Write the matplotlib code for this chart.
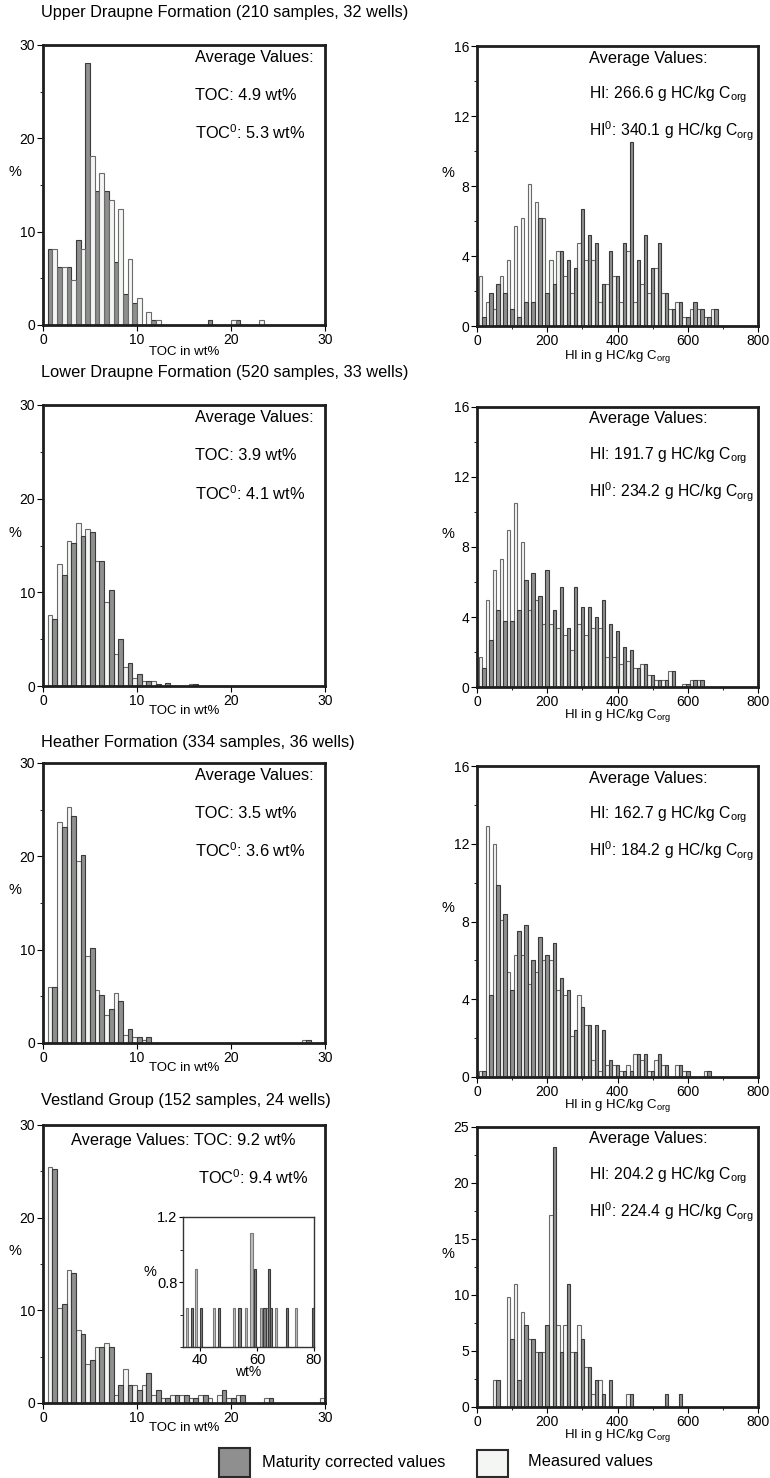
import matplotlib
matplotlib.use("Agg")
import matplotlib.pyplot as plt
from matplotlib.patches import Rectangle
from matplotlib.ticker import MultipleLocator
import numpy as np

plt.rcParams['font.family'] = ['Liberation Sans', 'DejaVu Sans']
plt.rcParams['mathtext.fontset'] = 'custom'
plt.rcParams['mathtext.rm'] = 'Liberation Sans'
plt.rcParams['mathtext.default'] = 'regular'

W, H = 770, 1478

# ---- TOC histograms (1 wt% bins, k = 1, 2, ...) ----
upper_toc_meas = [8.1, 6.2, 4.8, 8.1, 18.1, 16.3, 13.4, 12.4, 7.1, 2.9, 1.4, 0.5,
                  0, 0, 0, 0, 0, 0, 0, 0.5, 0, 0, 0.5]
upper_toc_corr = [8.1, 6.2, 6.2, 9.1, 28.1, 14.4, 14.4, 6.7, 3.3, 2.4, 0, 0.5,
                  0, 0, 0, 0, 0, 0.5, 0, 0, 0.5, 0, 0]

lower_toc_meas = [7.6, 13.0, 15.5, 17.4, 16.8, 13.3, 9.0, 3.4, 2.0, 0.9, 0.5, 0.5, 0, 0, 0, 0.2]
lower_toc_corr = [7.1, 11.8, 15.3, 16.0, 16.4, 13.3, 10.2, 5.0, 2.5, 1.3, 0.5, 0.2, 0.3, 0, 0, 0.2]

heather_toc_meas = [6.0, 23.7, 25.3, 19.5, 9.3, 5.7, 3.0, 5.4, 0.9, 0.6, 0.3,
                    0, 0, 0, 0, 0, 0, 0, 0, 0, 0, 0, 0, 0, 0, 0, 0, 0.3]
heather_toc_corr = [6.0, 23.1, 24.3, 20.1, 10.2, 5.1, 3.6, 4.5, 1.5, 0.6, 0.6,
                    0, 0, 0, 0, 0, 0, 0, 0, 0, 0, 0, 0, 0, 0, 0, 0, 0.3]

vest_toc_meas = [25.5, 10.2, 14.4, 7.9, 4.2, 6.0, 6.5, 0.9, 3.7, 1.9, 1.9, 0.9, 0.5, 0.9, 0.9,
                 0.5, 0.9, 0.5, 0.9, 0.5, 0.9, 0, 0, 0.5, 0, 0, 0, 0, 0, 0.5]
vest_toc_corr = [25.2, 10.7, 14.0, 7.4, 4.6, 6.0, 6.0, 1.9, 1.9, 1.4, 3.2, 1.4, 0.5, 0.9, 0.9,
                 0.5, 0.9, 0, 1.4, 0.5, 0.9, 0, 0, 0.5, 0, 0, 0, 0, 0, 0.5]

# Vestland inset (TOC > 30 wt%)
inset_meas_x = [35.5, 38.5, 45.0, 52.0, 56.1, 58.1, 61.4, 63.4, 66.7, 73.8]
inset_meas_h = [0.64, 0.88, 0.64, 0.64, 0.64, 1.10, 0.64, 0.64, 0.64, 0.64]
inset_corr_x = [37.1, 40.2, 46.7, 53.8, 59.4, 62.6, 64.1, 65.0, 70.5, 79.7]
inset_corr_h = [0.64, 0.64, 0.64, 0.64, 0.88, 0.64, 0.88, 0.64, 0.64, 0.64]

# ---- HI histograms (20 g HC/kg C bins starting at 0) ----
upper_hi_meas = [2.85, 1.4, 0.95, 2.85, 3.8, 5.7, 6.2, 8.1, 7.1, 6.2, 3.8, 4.3, 2.85, 1.9, 4.75, 3.8, 3.8,
                 1.4, 2.4, 2.85, 1.4, 4.3, 1.4, 2.4, 1.9, 3.3, 1.9, 0.95, 1.4, 0.5, 0.95, 0.95, 0.5, 0.95]
upper_hi_corr = [0.5, 1.9, 2.4, 1.9, 0.95, 0.5, 1.4, 1.4, 6.2, 1.9, 2.4, 4.3, 3.8, 3.3, 6.7, 5.2, 4.75,
                 2.4, 4.3, 2.85, 4.75, 10.5, 3.8, 5.2, 3.3, 4.75, 1.9, 0.95, 1.4, 0.5, 1.4, 0.95, 0.5, 0.95]

lower_hi_meas = [1.7, 5.0, 6.7, 7.3, 9.0, 10.5, 8.3, 4.4, 5.0, 3.6, 3.6, 3.4, 3.0, 2.1, 3.6, 3.0,
                 3.4, 3.4, 1.7, 1.7, 1.3, 1.5, 1.1, 1.3, 0.7, 0.4, 0.4, 0.9, 0, 0.15, 0.4, 0.4]
lower_hi_corr = [1.1, 2.7, 4.4, 3.8, 3.8, 4.4, 6.1, 6.5, 5.2, 6.7, 4.4, 5.7, 3.4, 5.7, 4.6, 4.6,
                 4.0, 5.0, 3.6, 3.2, 2.3, 2.1, 1.1, 1.3, 0.7, 0.4, 0.4, 0.9, 0, 0.15, 0.4, 0.4]

heather_hi_meas = [0.3, 12.9, 12.0, 8.1, 5.4, 6.3, 6.3, 4.8, 5.4, 6.0, 6.0, 4.5, 4.2, 2.1, 4.2, 2.7, 0.9,
                   0.3, 0.6, 0.6, 0.3, 0.6, 1.2, 0.9, 0.3, 0.9, 0.6, 0, 0.6, 0.3, 0, 0, 0.3]
heather_hi_corr = [0.3, 4.2, 9.9, 8.4, 4.5, 7.5, 7.8, 6.0, 7.2, 6.3, 6.9, 5.1, 4.5, 2.4, 3.6, 2.7, 2.7,
                   2.4, 0.9, 0.6, 0.3, 0.3, 1.2, 1.2, 0.3, 1.2, 0.6, 0, 0.6, 0.3, 0, 0, 0.3]

vest_hi_meas = [0, 0, 2.4, 0, 9.8, 11.0, 8.5, 6.1, 4.9, 4.9, 17.1, 7.3, 7.3, 4.9, 7.3, 3.6, 1.2,
                2.4, 0, 0, 0, 1.2, 0, 0, 0, 0, 0, 0, 0]
vest_hi_corr = [0, 0, 2.4, 0, 6.1, 2.4, 7.3, 6.1, 4.9, 7.3, 23.2, 4.9, 11.0, 4.9, 6.1, 3.6, 2.4,
                1.2, 2.4, 0, 0, 1.2, 0, 0, 0, 0, 1.2, 0, 1.2]

titles = ["Upper Draupne Formation (210 samples, 32 wells)",
          "Lower Draupne Formation (520 samples, 33 wells)",
          "Heather Formation (334 samples, 36 wells)",
          "Vestland Group (152 samples, 24 wells)"]
toc_avg = [("4.9", "5.3"), ("3.9", "4.1"), ("3.5", "3.6"), ("9.2", "9.4")]
hi_avg = [("266.6", "340.1"), ("191.7", "234.2"), ("162.7", "184.2"), ("204.2", "224.4")]

GRAY = '#8f8f8f'
WHITE = '#f4f6f4'
EDGE_G = '#3a3a3a'
EDGE_W = '#6a6a6a'
FS = 11.8
TFS = 10


def px_axes(fig, x0, y0, x1, y1):
    return fig.add_axes([x0 / W, 1 - y1 / H, (x1 - x0) / W, (y1 - y0) / H])


def bars(ax, left, heights, width, color, edge):
    left = np.asarray(left, float)
    heights = np.asarray(heights, float)
    m = heights > 0
    ax.bar(left[m], heights[m], width=width, align='edge', color=color,
           edgecolor=edge, linewidth=0.8)


def frame(ax, lw=2.0):
    for s in ax.spines.values():
        s.set_linewidth(lw)
        s.set_color('#1e1e1e')
    ax.tick_params(direction='out', length=4, width=0.8, labelsize=TFS, pad=1.5)
    ax.tick_params(which='minor', direction='out', length=2.5, width=0.6)


def toc_panel(ax, meas, corr, gray_first):
    k = np.arange(1, len(meas) + 1)
    if gray_first:
        bars(ax, k - 0.5, corr, 0.5, GRAY, EDGE_G)
        bars(ax, k, meas, 0.5, WHITE, EDGE_W)
    else:
        bars(ax, k - 0.5, meas, 0.5, WHITE, EDGE_W)
        bars(ax, k, corr, 0.5, GRAY, EDGE_G)
    ax.set_xlim(0, 30)
    ax.set_ylim(0, 30)
    ax.xaxis.set_major_locator(MultipleLocator(10))
    ax.yaxis.set_major_locator(MultipleLocator(10))
    ax.yaxis.set_minor_locator(MultipleLocator(5))
    frame(ax)
    ax.set_ylabel("%", rotation=0, fontsize=10.5)
    ax.yaxis.set_label_coords(-0.10, 0.52)


def hi_panel(ax, meas, corr, ymax, ymaj):
    b = 20 * np.arange(len(meas))
    bars(ax, b + 5, meas, 10, WHITE, EDGE_W)
    bars(ax, b + 15, corr, 10, GRAY, EDGE_G)
    ax.set_xlim(0, 800)
    ax.set_ylim(0, ymax)
    ax.xaxis.set_major_locator(MultipleLocator(200))
    ax.xaxis.set_minor_locator(MultipleLocator(100))
    ax.yaxis.set_major_locator(MultipleLocator(ymaj))
    ax.yaxis.set_minor_locator(MultipleLocator(ymaj / 2))
    frame(ax)
    ax.set_ylabel("%", rotation=0, fontsize=10.5)
    ax.yaxis.set_label_coords(-0.105, 0.52)


fig = plt.figure(figsize=(W / 100, H / 100), dpi=100)

rows_left = [(45, 325), (405, 686), (763, 1043), (1125, 1403)]
rows_right = [(46, 326), (407, 687), (766, 1077), (1127, 1407)]
title_y = [13, 372, 742, 1100]
lab_gap = [21, 19, 19, 19]   # pixels between axes bottom and x-label top

toc_data = [(upper_toc_meas, upper_toc_corr), (lower_toc_meas, lower_toc_corr),
            (heather_toc_meas, heather_toc_corr), (vest_toc_meas, vest_toc_corr)]
hi_data = [(upper_hi_meas, upper_hi_corr), (lower_hi_meas, lower_hi_corr),
           (heather_hi_meas, heather_hi_corr), (vest_hi_meas, vest_hi_corr)]

for i in range(4):
    fig.text(41 / W, 1 - title_y[i] / H, titles[i], fontsize=FS, va='center', ha='left')

    # left: TOC
    y0, y1 = rows_left[i]
    ax = px_axes(fig, 43, y0, 325, y1)
    toc_panel(ax, *toc_data[i], gray_first=(i == 0))
    ax.set_xlabel("TOC in wt%", fontsize=9.5)
    ax.xaxis.set_label_coords(0.5, -lab_gap[i] / (y1 - y0))
    t, t0 = toc_avg[i]
    if i < 3:
        ax.text(0.54, 0.957, "Average Values:", transform=ax.transAxes, fontsize=FS, va='center')
        ax.text(0.54, 0.82, f"TOC: {t} wt%", transform=ax.transAxes, fontsize=FS, va='center')
        ax.text(0.54, 0.686, f"TOC$^0$: {t0} wt%", transform=ax.transAxes, fontsize=FS, va='center')
    else:
        ax.text(0.10, 0.946, f"Average Values: TOC: {t} wt%", transform=ax.transAxes,
                fontsize=FS, va='center')
        ax.text(0.55, 0.81, f"TOC$^0$: {t0} wt%", transform=ax.transAxes, fontsize=FS, va='center')

    # right: HI
    y0, y1 = rows_right[i]
    hh = y1 - y0
    ax = px_axes(fig, 477, y0, 758, y1)
    if i < 3:
        hi_panel(ax, *hi_data[i], 16, 4)
    else:
        hi_panel(ax, *hi_data[i], 25, 5)
    ax.set_xlabel("HI in g HC/kg C$_{org}$", fontsize=9.5)
    ax.xaxis.set_label_coords(0.5, -(lab_gap[i] + 1) / hh)
    h, h0 = hi_avg[i]
    ax.text(0.40, 1 - 12 / hh, "Average Values:", transform=ax.transAxes, fontsize=FS, va='center')
    ax.text(0.40, 1 - 49 / hh, f"HI: {h} g HC/kg C$_{{org}}$", transform=ax.transAxes,
            fontsize=11.3, va='center')
    ax.text(0.40, 1 - 85 / hh, f"HI$^0$: {h0} g HC/kg C$_{{org}}$", transform=ax.transAxes,
            fontsize=11.3, va='center')

# inset in Vestland TOC panel
ins = px_axes(fig, 183, 1217, 314, 1347)
bars(ins, np.array(inset_meas_x) - 0.4, inset_meas_h, 0.8, '#bdbdbd', '#7a7a7a')
bars(ins, np.array(inset_corr_x) - 0.4, inset_corr_h, 0.8, '#7d7d7d', '#3a3a3a')
ins.set_xlim(34, 80)
ins.set_ylim(0.4, 1.2)
ins.xaxis.set_major_locator(MultipleLocator(20))
ins.yaxis.set_minor_locator(MultipleLocator(0.2))
ins.set_yticks([0.8, 1.2])
ins.set_yticklabels(["0.8", "1.2"])
for s in ins.spines.values():
    s.set_linewidth(1.0)
    s.set_color('#333333')
ins.tick_params(direction='out', length=3, width=0.8, labelsize=10.5, pad=1)
ins.tick_params(which='minor', length=2, width=0.6)
ins.set_xlabel("wt%", fontsize=10)
ins.xaxis.set_label_coords(0.5, -0.14)
ins.set_ylabel("%", rotation=0, fontsize=10.5)
ins.yaxis.set_label_coords(-0.25, 0.52)

# legend at bottom
fig.add_artist(Rectangle((219 / W, 1 - 1477 / H), 31 / W, 29 / H, transform=fig.transFigure,
                         facecolor=GRAY, edgecolor='#2a2a2a', linewidth=1.5))
fig.text(262 / W, 1 - 1462 / H, "Maturity corrected values", fontsize=FS, va='center')
fig.add_artist(Rectangle((477 / W, 1 - 1477 / H), 31 / W, 27 / H, transform=fig.transFigure,
                         facecolor=WHITE, edgecolor='#2a2a2a', linewidth=1.5))
fig.text(528 / W, 1 - 1462 / H, "Measured values", fontsize=FS, va='center')

fig.savefig("out.png", dpi=100)
